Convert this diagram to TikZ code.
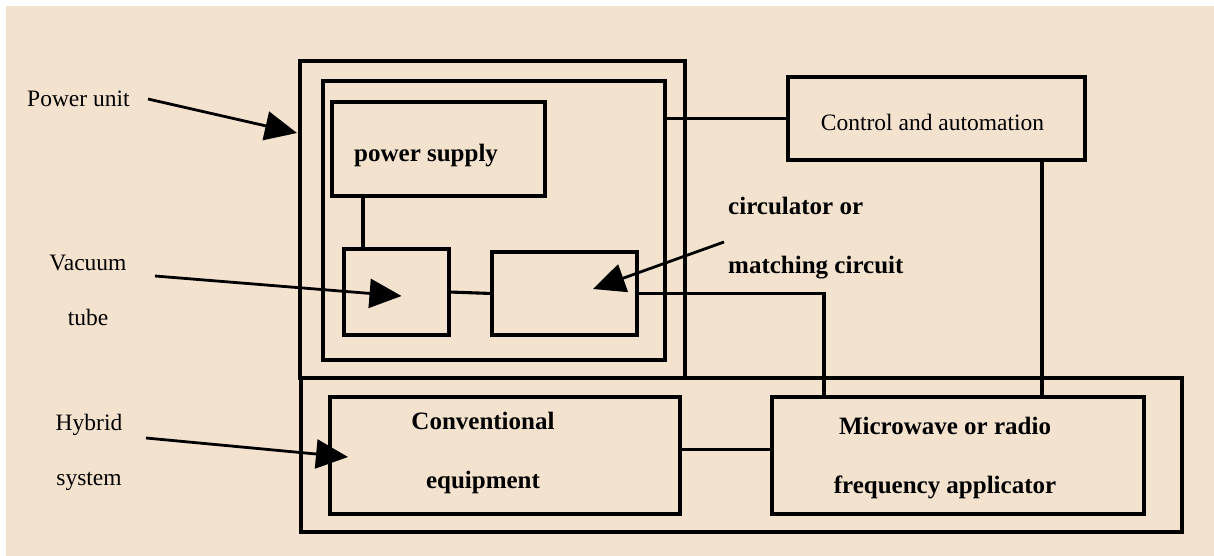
\documentclass[tikz,border=0pt]{standalone}
\usepackage{fontspec}
\setmainfont{Liberation Serif}
\usetikzlibrary{arrows.meta,calc}
\definecolor{paper}{RGB}{243,226,206}
\begin{document}
\begin{tikzpicture}[x=1pt,y=-1pt,
  box/.style 2 args={draw,line width=3.1pt,inner sep=0pt,outer sep=0pt,
    minimum width=#1pt,minimum height=#2pt},
  wire/.style={line width=3.1pt},
  pointer/.style={line width=2.8pt,-{Triangle[length=32pt,width=29pt]}},
  lbl/.style={inner sep=0pt,font=\fontsize{23.5}{55}\selectfont},
  blbl/.style={inner sep=0pt,font=\fontsize{25}{59}\selectfont\bfseries}]
% page and paper
\fill[white] (0,0) rectangle (1214,556);
\fill[paper] (6,6) rectangle (1214,556);
\useasboundingbox (0,0) rectangle (1214,556);

% boxes
\node[box={385}{317}] (power) at (492.5,219.5) {};
\node[box={342}{279}] (inner) at (494,220.5) {};
\node[box={213}{94}]  (psu)   at (438.5,149) {};
\node[box={105}{86}]  (tube)  at (396.5,292) {};
\node[box={145}{83}]  (circ)  at (564.5,293.5) {};
\node[box={297}{83}]  (ctrl)  at (936.5,118.5) {};
\node[box={881}{154}] (hybrid) at (741.5,455) {};
\node[box={350}{117}] (conv)  at (505,455.5) {};
\node[box={372}{117}] (mw)    at (958,455.5) {};

% texts (multi-line nodes sit on the baseline of their last line)
\node[blbl,anchor=base west] (psutxt) at (354,162) {power supply};
\node[lbl,anchor=base] (ctrltxt) at (932.5,131) {Control and automation};
\node[blbl,anchor=base west,align=left] (circtxt) at (728,273) {circulator or\\matching circuit};
\node[blbl,anchor=base,align=center] (convtxt) at (483,488) {Conventional\\equipment};
\node[blbl,anchor=base,align=center] (mwtxt) at (945,493) {Microwave or radio\\frequency applicator};
\node[lbl,anchor=base west] (pu) at (27,107) {Power unit};
\node[lbl,anchor=base,align=center] (vt) at (88,325) {Vacuum\\tube};
\node[lbl,anchor=base,align=center] (hy) at (89,485) {Hybrid\\system};

% connection points
\coordinate (psutap) at ($(tube.north west)+(19,0)$);
\coordinate (mwtap1) at ($(mw.north west)+(52,0)$);
\coordinate (ctrltap) at ($(ctrl.south west)+(254,0)$);

% connectors
\draw[wire] (ctrl.west) -- (ctrl.west -| inner.east);
\draw[wire] (psutap) -- (psutap |- psu.south);
\draw[wire] (tube.east) -- (circ.west);
\draw[wire] (circ.east) -| (mwtap1);
\draw[wire] (ctrltap) -- (ctrltap |- mw.north);
\draw[wire] ([yshift=6pt]conv.east) -- ([yshift=6pt]mw.west);

% pointers from the labels
\draw[pointer] ($(pu.base west)+(121,-8)$) -- ($(power.north west)+(-3,72)$);
\draw[pointer] ($(vt.base)+(67,-49)$) -- ($(tube.center)+(5,4)$);
\draw[pointer] ($(hy.base)+(57,-47)$) -- ($(conv.west)+(18,1.5)$);
\draw[pointer] ($(circtxt.base west)+(-4,-31)$) -- ($(circ.center)+(28.5,-4.5)$);
\end{tikzpicture}
\end{document}
